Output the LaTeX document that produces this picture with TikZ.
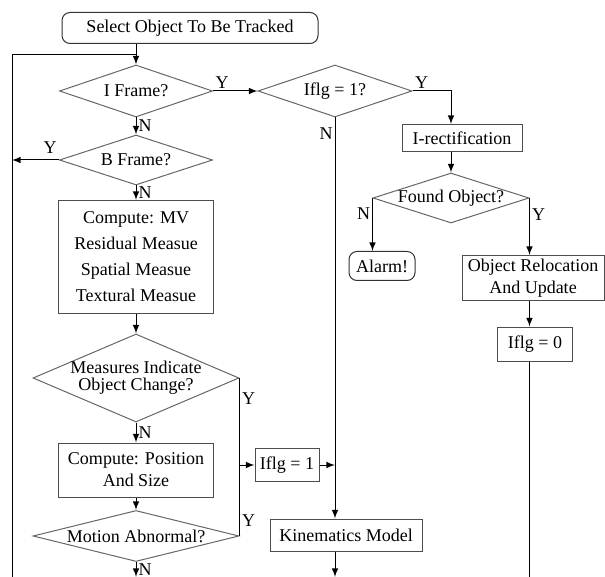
\documentclass[tikz,border=0pt]{standalone}
\usepackage{fontspec}
\setmainfont{Liberation Serif}
\usetikzlibrary{shapes.geometric,arrows,calc}
\tikzset{
    block/.style = {draw=black!70, rectangle, inner sep=1pt, align=center},
    terminal/.style = {draw=black!80, rectangle, rounded corners=4pt, inner sep=1pt},
    decision/.style = {draw=black!60, diamond, inner sep=0pt},
    arrow/.style = {draw, -latex},
    yn/.style = {inner sep=1pt}
}

\begin{document}
\begin{tikzpicture}[x=0.5pt,y=-0.5pt,line width=0.5pt,
    every node/.style={font=\fontsize{9}{11}\selectfont}]
    \useasboundingbox (0,0) rectangle (605,577);
    \coordinate (loopT) at (12,55);
    \coordinate (bot) at (12,577);
    \node[terminal,minimum width=128pt,minimum height=15.5pt] (start) at (190,28) {Select Object To Be Tracked};
    \node[decision,minimum width=76.5pt,minimum height=26pt] (iframe) at (136,91) {\makebox[0pt]{I Frame?}};
    \node[decision,minimum width=77pt,minimum height=26pt] (iflgq) at (335,91) {\makebox[0pt]{Iflg = 1?}};
    \node[decision,minimum width=76.5pt,minimum height=25pt] (bframe) at (136,160) {\makebox[0pt]{B Frame?}};
    \node[block,minimum width=77.5pt,minimum height=56.5pt,font=\fontsize{9}{13}\selectfont] (compmv) at (136,257) {Compute: MV\\Residual Measue\\Spatial Measue\\Textural Measue};
    \node[decision,minimum width=103pt,minimum height=44pt] (measures) at (136,378) {\makebox[0pt]{\begin{tabular}{@{}c@{}}Measures Indicate\\[-2.5pt]Object Change?\end{tabular}}};
    \node[block,minimum width=77.5pt,minimum height=27pt] (comppos) at (136,470) {Compute: Position\\And Size};
    \node[decision,minimum width=103pt,minimum height=25.5pt] (motion) at (136,536) {\makebox[0pt]{Motion Abnormal?}};
    \node[block,minimum width=32pt,minimum height=16.5pt] (iflgone) at (287,465) {Iflg = 1};
    \node[block,minimum width=76pt,minimum height=16pt] (kine) at (346,535) {Kinematics Model};
    \node[block,minimum width=60pt,minimum height=13.5pt] (irect) at (462,138) {I-rectification};
    \node[decision,minimum width=78pt,minimum height=25pt] (found) at (451,198) {\makebox[0pt]{Found Object?}};
    \node[terminal,minimum width=33pt,minimum height=14.5pt] (alarm) at (382,266) {Alarm!};
    \node[block,minimum width=71pt,minimum height=22.5pt] (reloc) at (533,278) {Object Relocation\\And Update};
    \node[block,minimum width=37.5pt,minimum height=17pt] (iflgzero) at (535,344) {Iflg = 0};

    \draw[arrow] (iframe.north |- start.south) -- (iframe.north);
    \draw (bot) -- (loopT) -- (iframe.north |- loopT);
    \draw[arrow] (iframe.east) -- node[yn,pos=0,above right] {Y} (iflgq.west);
    \draw[arrow] (iframe.south) -- node[yn,midway,right] {N} (bframe.north);
    \draw[arrow] (bframe.west) -- node[yn,pos=0,above left,yshift=2pt] {Y} (bframe.west -| loopT);
    \draw[arrow] (bframe.south) -- node[yn,midway,right] {N} (compmv.north);
    \draw[arrow] (compmv.south) -- (measures.north);
    \draw[arrow] (measures.south) -- node[yn,midway,right] {N} (comppos.north);
    \draw[arrow] (comppos.south) -- (motion.north);
    \draw[arrow] (motion.south) -- node[yn,midway,right] {N} (motion.south |- bot);
    \draw (measures.east) -- node[yn,pos=0.13,right] {Y} node[yn,pos=0.9,right] {Y} (motion.east);
    \draw[arrow] (measures.east |- iflgone.west) -- (iflgone.west);
    \draw[arrow] (iflgone.east) -- (iflgq.south |- iflgone.east);
    \draw[arrow] (iflgq.east) -| node[yn,pos=0,above right] {Y} (found.north |- irect.north);
    \draw[arrow] (iflgq.south) -- node[yn,pos=0.02,below left] {N} (iflgq.south |- kine.north);
    \draw[arrow] (iflgq.south |- kine.south) -- (iflgq.south |- bot);
    \draw[arrow] (irect.south -| found.north) -- (found.north);
    \draw[arrow] (found.west) -- node[yn,pos=0.3,left] {N} (found.west |- alarm.north);
    \draw[arrow] (found.east) -- node[yn,pos=0.3,right] {Y} (found.east |- reloc.north);
    \draw[arrow] (found.east |- reloc.south) -- (found.east |- iflgzero.north);
    \draw (found.east |- iflgzero.south) -- (found.east |- bot);
\end{tikzpicture}
\end{document}
